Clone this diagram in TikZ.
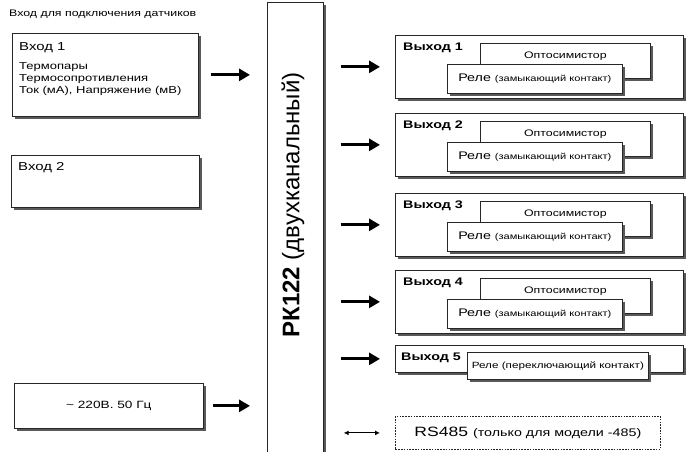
\documentclass[tikz,border=0pt]{standalone}
\usepackage{fontspec}
\setmainfont{Liberation Sans}[FakeStretch=1.3]
\newfontfamily\plainsans{Liberation Sans}
\usepackage{tikz}
\usetikzlibrary{shapes,arrows.meta,positioning,fit,calc,shadows}

\begin{document}
\begin{tikzpicture}[
    x=1pt, y=-1pt,
    box/.style={rectangle, draw=black!85, line width=0.7pt, fill=white, inner sep=0pt, anchor=north west,
        drop shadow={shadow xshift=2.2pt, shadow yshift=-2.2pt, fill=black!65, opacity=1}},
    optobox/.style={box, minimum width=170pt, text height=15pt, text depth=20pt, font=\fontsize{9.5}{11}\selectfont},
    relbox/.style={box, minimum width=175pt, minimum height=29pt},
    outbox/.style={box, minimum width=288pt, minimum height=63pt},
    dbox/.style={rectangle, draw=black!85, dashed, dash pattern=on 1.6pt off 1.2pt, line width=0.8pt, fill=white, inner sep=0pt, anchor=north west},
    txt/.style={inner sep=0pt, anchor=north west, align=left},
    outname/.style={inner sep=0pt, anchor=west, font=\fontsize{11}{13}\selectfont\bfseries},
    arrow/.style={-{Triangle[length=11pt,width=12pt]}, line width=3.2pt},
    link/.style={{Latex[length=5pt,width=5pt]}-{Latex[length=5pt,width=5pt]}, line width=1.1pt}
]
\useasboundingbox (0,0) rectangle (691,451);

% Nodes
\node[txt, font=\fontsize{9.5}{11}\selectfont] (title) at (9,10) {Вход для подключения датчиков};

\node[box, minimum width=186pt, minimum height=83pt] (in1) at (12,33) {};
\node[txt, font=\fontsize{11.5}{13}\selectfont] (in1name) at ([shift={(7,9)}]in1.north west) {Вход 1};
\node[txt, font=\fontsize{10}{12}\selectfont, below=10pt of in1name.south west, anchor=north west] (in1list)
    {Термопары\\Термосопротивления\\Ток (мА), Напряжение (мВ)};

\node[box, minimum width=188pt, minimum height=52pt] (in2) at (11,155) {};
\node[txt, font=\fontsize{11.5}{13}\selectfont] (in2name) at ([shift={(7,7)}]in2.north west) {Вход 2};

\node[box, minimum width=189pt, minimum height=45pt, font=\fontsize{10.5}{12}\selectfont] (pwr) at (14,383)
    {\textasciitilde\ 220В. 50 Гц};

\node[box, minimum width=56pt, minimum height=470pt, drop shadow={shadow xshift=3pt, shadow yshift=-3pt, fill=black!65, opacity=1}] (pk) at (267,2) {};
\node[inner sep=0pt, rotate=90, font=\plainsans\fontsize{24}{27}\selectfont] (pkname) at (293,205)
    {\textbf{РК122} (двухканальный)};

\node[outbox] (out1) at (395,35) {};
\node[outname] (out1name) at ([shift={(8,13)}]out1.north west) {Выход 1};
\node[optobox] (opto1) at (480,43) {Оптосимистор};
\node[relbox] (rel1) at (447,64) {\fontsize{11}{12}\selectfont Реле \fontsize{8.5}{10}\selectfont(замыкающий контакт)};

\node[outbox] (out2) at (395,113) {};
\node[outname] (out2name) at ([shift={(8,13)}]out2.north west) {Выход 2};
\node[optobox] (opto2) at (480,121) {Оптосимистор};
\node[relbox] (rel2) at (447,142) {\fontsize{11}{12}\selectfont Реле \fontsize{8.5}{10}\selectfont(замыкающий контакт)};

\node[outbox] (out3) at (395,193) {};
\node[outname] (out3name) at ([shift={(8,13)}]out3.north west) {Выход 3};
\node[optobox] (opto3) at (480,201) {Оптосимистор};
\node[relbox] (rel3) at (447,222) {\fontsize{11}{12}\selectfont Реле \fontsize{8.5}{10}\selectfont(замыкающий контакт)};

\node[outbox] (out4) at (395,270) {};
\node[outname] (out4name) at ([shift={(8,13)}]out4.north west) {Выход 4};
\node[optobox] (opto4) at (480,278) {Оптосимистор};
\node[relbox] (rel4) at (447,299) {\fontsize{11}{12}\selectfont Реле \fontsize{8.5}{10}\selectfont(замыкающий контакт)};

\node[outbox, minimum height=27pt] (out5) at (395,345) {};
\node[outname] (out5name) at ([shift={(6,13)}]out5.north west) {Выход 5};
\node[box, minimum width=181pt, minimum height=27pt, font=\fontsize{9}{10}\selectfont] (rel5) at (467,352)
    {Реле (переключающий контакт)};

\node[dbox, minimum width=265pt, minimum height=33pt] (rs) at (395,416)
    {\fontsize{13.5}{15}\selectfont RS485 \fontsize{11}{12}\selectfont(только для модели -485)};

% Edges
\draw[arrow] ([xshift=12pt]in1.east) -- ([xshift=-17pt]pk.west |- in1.east);
\draw[arrow] ([xshift=9pt]pwr.east) -- ([xshift=-17pt]pk.west |- pwr.east);

\draw[arrow] ([xshift=17pt]pk.east |- out1.west) -- ([xshift=-15pt]out1.west);
\draw[arrow] ([xshift=17pt]pk.east |- out2.west) -- ([xshift=-15pt]out2.west);
\draw[arrow] ([xshift=17pt]pk.east |- out3.west) -- ([xshift=-15pt]out3.west);
\draw[arrow] ([xshift=17pt]pk.east |- out4.west) -- ([xshift=-15pt]out4.west);
\draw[arrow] ([xshift=17pt]pk.east |- out5.west) -- ([xshift=-15pt]out5.west);

\draw[link] ([xshift=20pt]pk.east |- rs.west) -- ([xshift=-15pt]rs.west);

\end{tikzpicture}
\end{document}
